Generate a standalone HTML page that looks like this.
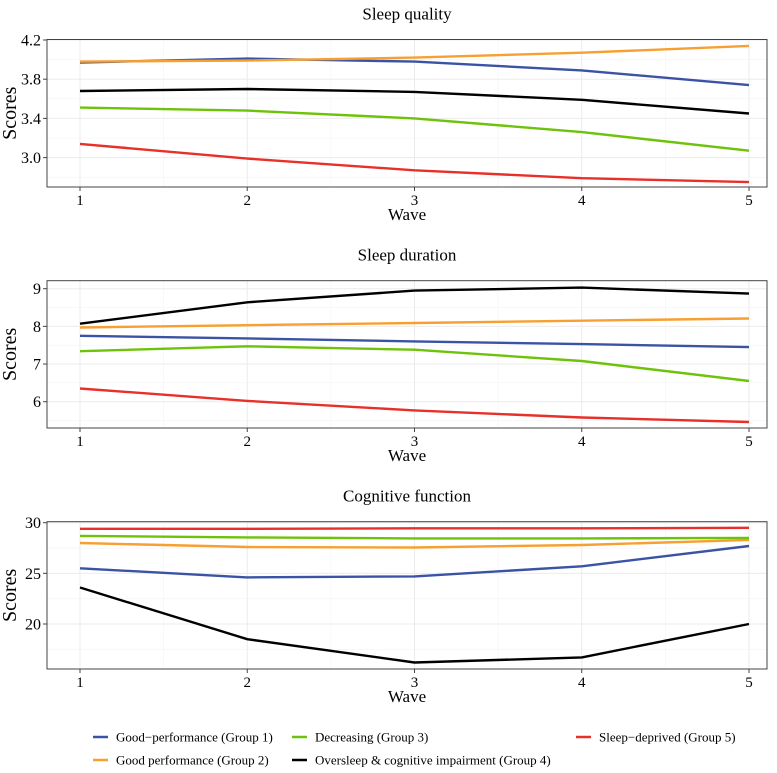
<!DOCTYPE html>
<html><head><meta charset="utf-8"><style>
body{margin:0;background:#fff;font-family:"Liberation Serif","Times New Roman","DejaVu Serif",serif;}
svg text{font-family:"Liberation Serif","Times New Roman","DejaVu Serif",serif;fill:#000;}
</style></head><body>
<svg id="chart" width="777" height="768" xmlns="http://www.w3.org/2000/svg" font-family="Liberation Serif, Times New Roman, serif"></svg>
<script>
const waves = [1,2,3,4,5];
const groupNames = ["Good\u2212performance (Group 1)","Good performance (Group 2)","Decreasing (Group 3)","Oversleep & cognitive impairment (Group 4)","Sleep\u2212deprived (Group 5)"];
const groupColors = ["#3a53a4","#f7a030","#6ec20a","#000000","#e8302a"];
const qualityG1 = [3.97,4.01,3.98,3.89,3.74];
const qualityG2 = [3.98,3.99,4.02,4.07,4.14];
const qualityG3 = [3.51,3.48,3.40,3.26,3.07];
const qualityG4 = [3.68,3.70,3.67,3.59,3.45];
const qualityG5 = [3.14,2.99,2.87,2.79,2.75];
const durationG1 = [7.75,7.68,7.60,7.53,7.45];
const durationG2 = [7.97,8.03,8.09,8.15,8.21];
const durationG3 = [7.34,7.47,7.38,7.08,6.55];
const durationG4 = [8.07,8.64,8.95,9.03,8.87];
const durationG5 = [6.35,6.02,5.77,5.58,5.46];
const cognitiveG1 = [25.5,24.6,24.7,25.7,27.7];
const cognitiveG2 = [28.0,27.6,27.55,27.8,28.3];
const cognitiveG3 = [28.7,28.55,28.45,28.45,28.5];
const cognitiveG4 = [23.6,18.5,16.2,16.7,20.0];
const cognitiveG5 = [29.4,29.4,29.45,29.45,29.5];
const qualityTicks = [3.0,3.4,3.8,4.2];
const durationTicks = [6,7,8,9];
const cognitiveTicks = [20,25,30];

const NS="http://www.w3.org/2000/svg";
const svg=document.getElementById('chart');
const FF="Liberation Serif, Times New Roman, serif";
function mk(tag,attrs,parent){const e=document.createElementNS(NS,tag);for(const k in attrs)e.setAttribute(k,attrs[k]);if(tag==='text')e.setAttribute('font-family',FF);(parent||svg).appendChild(e);return e;}
const L=47,R=767;
const xScale=w=>80+(w-1)*167.25;
const panels=[
 {title:"Sleep quality",key:"quality",top:39.5,bot:187,v0:4.2,y0:40,v1:3.0,y1:157.6,ticks:qualityTicks,fmt:v=>v.toFixed(1),series:[qualityG1,qualityG2,qualityG3,qualityG4,qualityG5],order:[4,2,3,0,1]},
 {title:"Sleep duration",key:"duration",top:280.7,bot:428,v0:9,y0:288.7,v1:6,y1:401.7,ticks:durationTicks,fmt:v=>String(v),series:[durationG1,durationG2,durationG3,durationG4,durationG5],order:[4,2,0,1,3]},
 {title:"Cognitive function",key:"cognitive",top:521.7,bot:669,v0:30,y0:522.7,v1:20,y1:624,ticks:cognitiveTicks,fmt:v=>String(v),series:[cognitiveG1,cognitiveG2,cognitiveG3,cognitiveG4,cognitiveG5],order:[3,0,1,2,4]}
];
panels.forEach((p,pi)=>{
 const g=mk('g',{});
 
 
 const ys=v=>p.y0+(v-p.v0)*(p.y1-p.y0)/(p.v1-p.v0);
 const t=mk('text',{x:407,y:p.top-20,'text-anchor':'middle','font-size':17},g);t.textContent=p.title;
 
 const step=p.ticks[1]-p.ticks[0];
 const vmax=Math.max(p.v0,p.v1)+3*step;
 for(let v=p.ticks[0]-step*3;v<=vmax;v+=step/2){const y=ys(v);if(y<p.top||y>p.bot)continue;
   const isMajor=Math.abs(((v-p.ticks[0])/step)-Math.round((v-p.ticks[0])/step))<1e-6;
   mk('line',{x1:L,x2:R,y1:y,y2:y,stroke:isMajor?'#ebebeb':'#f3f3f3','stroke-width':isMajor?1:0.6},g);}
 for(let w=1;w<=5;w+=0.5){const x=xScale(w);mk('line',{x1:x,x2:x,y1:p.top,y2:p.bot,stroke:Number.isInteger(w)?'#ebebeb':'#f3f3f3','stroke-width':Number.isInteger(w)?1:0.6},g);}
 mk('rect',{x:L,y:p.top,width:R-L,height:p.bot-p.top,fill:'none',stroke:'#444','stroke-width':1},g);
 p.ticks.forEach(v=>{const y=ys(v);mk('line',{x1:L-4,x2:L,y1:y,y2:y,stroke:'#444'},g);
   const tx=mk('text',{x:L-6,y:y+5.5,'text-anchor':'end','font-size':16,fill:'#333'},g);tx.textContent=p.fmt(v);
   });
 waves.forEach(w=>{const x=xScale(w);mk('line',{x1:x,x2:x,y1:p.bot,y2:p.bot+4,stroke:'#444'},g);
   const tx=mk('text',{x:x,y:p.bot+18,'text-anchor':'middle','font-size':15,fill:'#333'},g);tx.textContent=w;
   });
 const xt=mk('text',{x:407,y:p.bot+33,'text-anchor':'middle','font-size':17},g);xt.textContent='Wave';
 
 const yt=mk('text',{x:0,y:0,'text-anchor':'middle','font-size':20,transform:`translate(16,${(p.top+p.bot)/2}) rotate(-90)`},g);yt.textContent='Scores';
 
 p.order.forEach(i=>{const d=p.series[i].map((v,j)=>(j?'L':'M')+xScale(waves[j]).toFixed(1)+','+ys(v).toFixed(1)).join(' ');
   const pa=mk('path',{d:d,fill:'none',stroke:groupColors[i],'stroke-width':2.4,'stroke-linejoin':'round'},g);
   });
});
const lg=mk('g',{});


const legPos=[[93,737],[93,760],[292,737],[292,760],[576,737]];
groupNames.forEach((n,i)=>{const [x,y]=legPos[i];
 const e=mk('g',{},lg);
 
 mk('line',{x1:x,x2:x+15,y1:y,y2:y,stroke:groupColors[i],'stroke-width':2.5},e);
 const t=mk('text',{x:x+23,y:y+4.5,'font-size':13},e);t.textContent=n;});
</script>
</body></html>
